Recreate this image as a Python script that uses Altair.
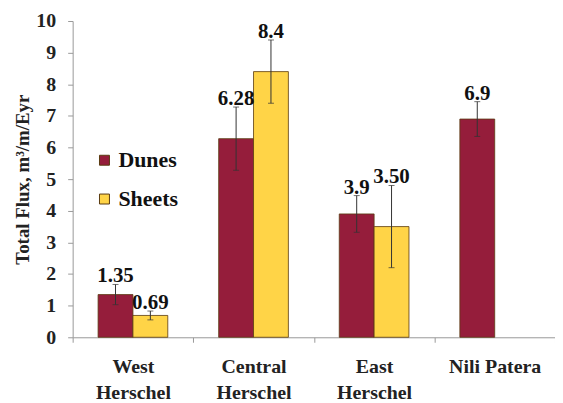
import altair as alt
import pandas as pd

regions = ["West Herschel", "Central Herschel", "East Herschel", "Nili Patera"]
series = ["Dunes", "Sheets"]

dunes_vals = [1.35, 6.28, 3.9, 6.9]
dunes_err = [0.32, 1.0, 0.58, 0.55]
dunes_lbl = ["1.35", "6.28", "3.9", "6.9"]

sheets_vals = [0.69, 8.4, 3.5, None]
sheets_err = [0.14, 1.0, 1.3, None]
sheets_lbl = ["0.69", "8.4", "3.50", None]

rows = []
for i, r in enumerate(regions):
    rows.append(dict(region=r, series="Dunes", value=dunes_vals[i], err=dunes_err[i], label=dunes_lbl[i]))
    if sheets_vals[i] is not None:
        rows.append(dict(region=r, series="Sheets", value=sheets_vals[i], err=sheets_err[i], label=sheets_lbl[i]))
df = pd.DataFrame(rows)
df["lo"] = df["value"] - df["err"]
df["hi"] = df["value"] + df["err"]

FONT = "Liberation Serif, Times New Roman, serif"

x = alt.X("region:N", sort=regions, title=None,
          scale=alt.Scale(paddingInner=0, paddingOuter=0),
          axis=alt.Axis(labelExpr="datum.label == 'Nili Patera' ? datum.label : split(datum.label, ' ')"))
xo = alt.XOffset("series:N", sort=series, scale=alt.Scale(paddingInner=0, paddingOuter=0.73))


def Y(field):
    return alt.Y(field, type="quantitative", scale=alt.Scale(domain=[0, 10], nice=False),
                 title="Total Flux, m³/m/Eyr",
                 axis=alt.Axis(values=list(range(0, 11)), labelOverlap=False))


color = alt.Color("series:N", sort=series,
                  scale=alt.Scale(domain=series, range=["#951D3B", "#FFD447"]),
                  legend=alt.Legend(title=None, orient="none", legendX=21, legendY=129))

base = alt.Chart(df)

bars = base.mark_bar(stroke="#5a3a10", strokeWidth=0.8).encode(x=x, xOffset=xo, y=Y("value"), color=color)

errs = base.mark_rule(color="#333", strokeWidth=1).encode(x=x, xOffset=xo, y=Y("lo"), y2="hi:Q")
caps_hi = base.mark_tick(color="#333", thickness=1, size=6).encode(x=x, xOffset=xo, y=Y("hi"))
caps_lo = base.mark_tick(color="#333", thickness=1, size=6).encode(x=x, xOffset=xo, y=Y("lo"))

labels = base.mark_text(font=FONT, fontSize=21, fontWeight="bold", color="#111",
                        baseline="bottom", dy=2).encode(x=x, xOffset=xo, y=Y("hi"), text="label:N")

chart = alt.layer(bars, errs, caps_hi, caps_lo, labels).properties(
    width=485, height=318,
    autosize=alt.AutoSizeParams(type="none"),
    padding={"left": 65, "top": 12, "right": 0, "bottom": 64},
).configure(font=FONT).configure_view(stroke=None).configure_axis(
    domainColor="#999", tickColor="#999", tickSize=5, domainWidth=1, grid=False,
    labelFont=FONT, labelFontWeight="bold", labelColor="#222",
    titleFont=FONT, titleFontWeight="bold", titleColor="#222",
).configure_axisX(
    tickBand="extent", labelAngle=0, labelFontSize=20, labelLineHeight=27, labelPadding=14,
).configure_axisY(
    labelFontSize=20, labelPadding=12, titleFontSize=19, titlePadding=3, labelOverlap=False,
).configure_legend(
    symbolType="square", symbolSize=100, labelFont=FONT, labelFontSize=22,
    labelFontWeight="bold", labelColor="#111", rowPadding=17, symbolStrokeWidth=1,
    labelOffset=3, symbolStrokeColor="#5a3a10",
)

chart.save("out.html", embed_options={"renderer": "svg", "actions": False})
